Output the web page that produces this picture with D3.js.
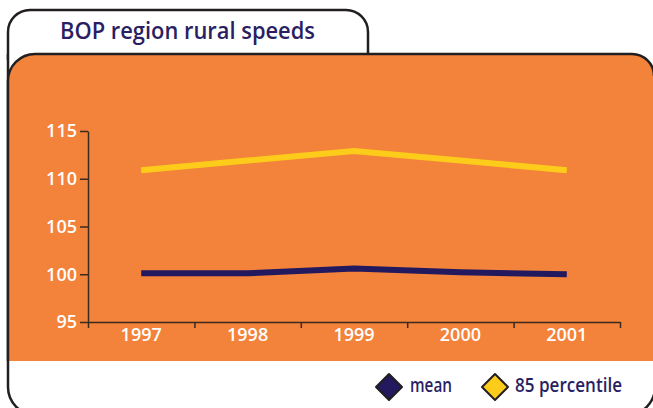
<!DOCTYPE html>
<html>
<head>
<meta charset="utf-8">
<script src="https://cdn.jsdelivr.net/npm/d3@7"></script>
<style>
  body { margin: 0; background: #fff; }
  svg { display: block; }
</style>
</head>
<body>
<div id="chart"></div>
<script>
const years = ['1997', '1998', '1999', '2000', '2001'];
const meanSpeed = [100.1, 100.1, 100.6, 100.2, 100.0];
const pct85Speed = [110.9, 111.9, 112.9, 111.9, 110.9];
const yTicks = [95, 100, 105, 110, 115];

const width = 653, height = 408;
const orange = '#f3823a', navy = '#22195e', yellow = '#fdcc1a', ink = '#231f20';
const font = '"Open Sans", "DejaVu Sans", sans-serif';

const svg = d3.select('#chart').append('svg')
    .attr('width', width)
    .attr('height', height);

// outer frame (white card)
svg.append('path')
    .attr('d', 'M8,54 V387 A28,28 0 0 0 36,415 H627 A28,28 0 0 0 655,387 V54')
    .attr('fill', '#fff')
    .attr('stroke', ink)
    .attr('stroke-width', 2.5);

// title tab
svg.append('path')
    .attr('d', 'M8,60 V32 A22,22 0 0 1 30,10 H346 A22,22 0 0 1 368,32 V60')
    .attr('fill', '#fff')
    .attr('stroke', ink)
    .attr('stroke-width', 2.5);

// orange panel
svg.append('path')
    .attr('d', 'M9,361 V81 A27,27 0 0 1 36,54 H632 A22,22 0 0 1 654,76 V361 Z')
    .attr('fill', orange);
svg.append('path')
    .attr('d', 'M8,361 V81 A27,27 0 0 1 35,54 H632 A22,22 0 0 1 654,76')
    .attr('fill', 'none')
    .attr('stroke', ink)
    .attr('stroke-width', 2.5);

svg.append('text')
    .attr('x', 60).attr('y', 39)
    .attr('fill', '#2a1f63')
    .attr('font-family', font)
    .attr('font-weight', 600)
    .attr('font-size', 24)
    .attr('textLength', 255)
    .attr('lengthAdjust', 'spacingAndGlyphs')
    .text('BOP region rural speeds');

// scales
const x0 = 88, x1 = 620, yTop = 131, yBot = 322;
const x = d3.scaleBand().domain(years).range([x0, x1]);
const xEdge = d3.scaleLinear().domain([0, years.length]).range([x0, x1]);
const y = d3.scaleLinear().domain([95, 115]).range([yBot, yTop]);

const axisColor = '#3b2a1e';

const yAxis = svg.append('g')
    .attr('transform', `translate(${x0},0)`)
    .call(d3.axisLeft(y).tickValues(yTicks).tickSize(8).tickPadding(3).tickSizeOuter(0));

const xTicks = svg.append('g')
    .attr('transform', `translate(0,${yBot})`)
    .call(d3.axisBottom(xEdge).tickValues(d3.range(years.length + 1)).tickSize(6).tickFormat('').tickSizeOuter(0));

const xLabels = svg.append('g')
    .attr('transform', `translate(0,${yBot})`)
    .call(d3.axisBottom(x).tickSize(0).tickPadding(6));
xLabels.select('.domain').remove();

[yAxis, xTicks].forEach(g => {
    g.selectAll('path, line').attr('stroke', axisColor).attr('stroke-width', 1.5);
});
[yAxis, xLabels].forEach(g => {
    g.selectAll('text')
        .attr('fill', '#fff')
        .attr('font-family', font)
        .attr('font-weight', 600)
        .attr('font-size', 18);
});

// lines
const line = d3.line()
    .x((d, i) => x(years[i]) + x.bandwidth() / 2)
    .y(d => y(d));

svg.append('path')
    .datum(pct85Speed)
    .attr('d', line)
    .attr('fill', 'none')
    .attr('stroke', yellow)
    .attr('stroke-width', 6);

svg.append('path')
    .datum(meanSpeed)
    .attr('d', line)
    .attr('fill', 'none')
    .attr('stroke', navy)
    .attr('stroke-width', 6);

// legend
const legend = [
    { name: 'mean', color: navy, cx: 389, tx: 410, w: 42 },
    { name: '85 percentile', color: yellow, cx: 495, tx: 515, w: 107 }
];
const lg = svg.append('g').selectAll('g').data(legend).enter().append('g');
lg.append('path')
    .attr('d', d => `M${d.cx},374 L${d.cx + 13},387 L${d.cx},400 L${d.cx - 13},387 Z`)
    .attr('fill', d => d.color)
    .attr('stroke', ink)
    .attr('stroke-width', 2)
    .attr('stroke-linejoin', 'round');
lg.append('text')
    .attr('x', d => d.tx).attr('y', 392)
    .attr('fill', '#2a1f63')
    .attr('font-family', font)
    .attr('font-weight', 600)
    .attr('font-size', 19)
    .attr('textLength', d => d.w)
    .attr('lengthAdjust', 'spacingAndGlyphs')
    .text(d => d.name);
</script>
</body>
</html>
